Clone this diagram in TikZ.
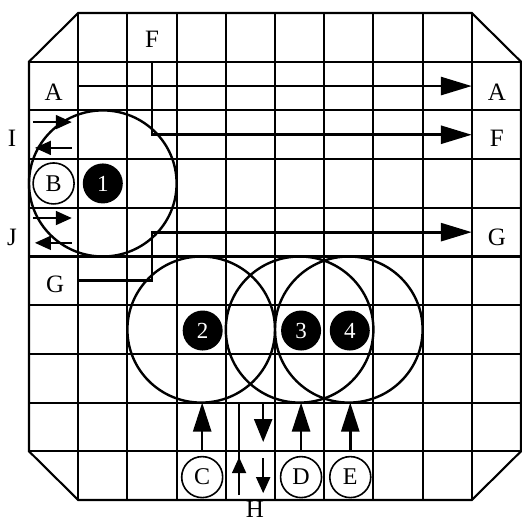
\documentclass[tikz,border=0pt]{standalone}
\usepackage{fontspec}
\setmainfont{Liberation Serif}
\usetikzlibrary{arrows.meta}
\begin{document}
\begin{tikzpicture}[x=49.2pt,y=-48.7pt,
  gridline/.style={line width=2.1pt},
  bigcircle/.style={line width=2.4pt},
  flow/.style={line width=2.8pt,-{Triangle[length=31pt,width=18pt]}},
  feed/.style={line width=2.6pt,-{Triangle[length=29pt,width=18pt]}},
  hbig/.style={line width=2.4pt,-{Triangle[length=23pt,width=18pt]}},
  small/.style={line width=1.9pt,-{Triangle[length=16pt,width=14pt]}},
  plain/.style={line width=1.9pt},
  lab/.style={font=\fontsize{25}{25}\selectfont, inner sep=0pt},
  ring/.style={circle,draw,fill=white,line width=1.6pt,minimum size=41pt,inner sep=0pt,font=\fontsize{24}{24}\selectfont},
  disc/.style={circle,fill=black,text=white,minimum size=40pt,inner sep=0pt,font=\fontsize{23}{23}\selectfont}
]
\fill[white] (-29pt,13pt) rectangle (493pt,-512pt);
\useasboundingbox (-29pt,13pt) rectangle (493pt,-512pt);

% grid
\begin{scope}
\clip (0,1) -- (1,0) -- (9,0) -- (10,1) -- (10,9) -- (9,10) -- (1,10) -- (0,9) -- cycle;
\foreach \k in {1,...,9} {
  \draw[gridline] (\k,0) -- (\k,10);
  \draw[gridline] (0,\k) -- (10,\k);
}
\end{scope}
\draw[gridline,line join=miter] (0,1) -- (1,0) -- (9,0) -- (10,1) -- (10,9) -- (9,10) -- (1,10) -- (0,9) -- cycle;

% big circles
\draw[bigcircle] (1.5,3.5) circle [radius=1.5];
\draw[bigcircle] (3.5,6.5) circle [radius=1.5];
\draw[bigcircle] (5.5,6.5) circle [radius=1.5];
\draw[bigcircle] (6.5,6.5) circle [radius=1.5];

% labels
\node[lab] (Al) at (0.5,1.62) {A};
\node[lab] (Ar) at (9.51,1.62) {A};
\node[lab] (Ft) at (2.5,0.55) {F};
\node[lab] (Fr) at (9.51,2.57) {F};
\node[lab] (Gl) at (0.53,5.58) {G};
\node[lab] (Gr) at (9.51,4.6) {G};
\node[lab] (I) at (-0.345,2.57) {I};
\node[lab] (J) at (-0.345,4.6) {J};
\node[lab] (H) at (4.59,10.19) {H};

% rings and discs
\node[ring] (B) at (0.5,3.5) {B};
\node[ring] (C) at (3.52,9.53) {C};
\node[ring] (D) at (5.53,9.53) {D};
\node[ring] (E) at (6.53,9.53) {E};
\node[disc] (n1) at (1.5,3.5) {1};
\node[disc] (n2) at (3.53,6.52) {2};
\node[disc] (n3) at (5.53,6.52) {3};
\node[disc] (n4) at (6.52,6.52) {4};

% A, F, G flows
\coordinate (a0) at (1,1.5);
\coordinate (a1) at (9,1.5);
\draw[flow] (a0) -- (a1);
\coordinate (f0) at (2.5,1);
\coordinate (f1) at (2.5,2.5);
\coordinate (f2) at (9,2.5);
\draw[flow] (f0) -- (f1) -- (f2);
\coordinate (g0) at (1,5.5);
\coordinate (g1) at (2.5,5.5);
\coordinate (g2) at (2.5,4.5);
\coordinate (g3) at (9,4.5);
\draw[flow] (g0) -- (g1) -- (g2) -- (g3);

% I and J arrows
\coordinate (i0) at (0.08,2.24);
\coordinate (i1) at (0.87,2.24);
\draw[small] (i0) -- (i1);
\coordinate (i2) at (0.87,2.77);
\coordinate (i3) at (0.12,2.77);
\draw[small] (i2) -- (i3);
\coordinate (j0) at (0.08,4.21);
\coordinate (j1) at (0.87,4.21);
\draw[small] (j0) -- (j1);
\coordinate (j2) at (0.87,4.72);
\coordinate (j3) at (0.12,4.72);
\draw[small] (j2) -- (j3);

% feeds C, D, E
\coordinate (c0) at (3.52,9);
\coordinate (c1) at (3.52,8);
\draw[feed] (c0) -- (c1);
\coordinate (d0) at (5.53,9);
\coordinate (d1) at (5.53,8);
\draw[feed] (d0) -- (d1);
\coordinate (e0) at (6.53,9);
\coordinate (e1) at (6.53,8);
\draw[feed] (e0) -- (e1);

% H lines
\coordinate (hl0) at (4.27,8);
\coordinate (hl1) at (4.27,9.9);
\coordinate (hl2) at (4.27,9.12);
\draw[plain] (hl0) -- (hl1);
\draw[small] (hl1) -- (hl2);
\coordinate (hr0) at (4.76,8);
\coordinate (hr1) at (4.76,8.81);
\draw[hbig] (hr0) -- (hr1);
\coordinate (hr2) at (4.76,9.14);
\coordinate (hr3) at (4.76,9.86);
\draw[small] (hr2) -- (hr3);
\end{tikzpicture}
\end{document}
